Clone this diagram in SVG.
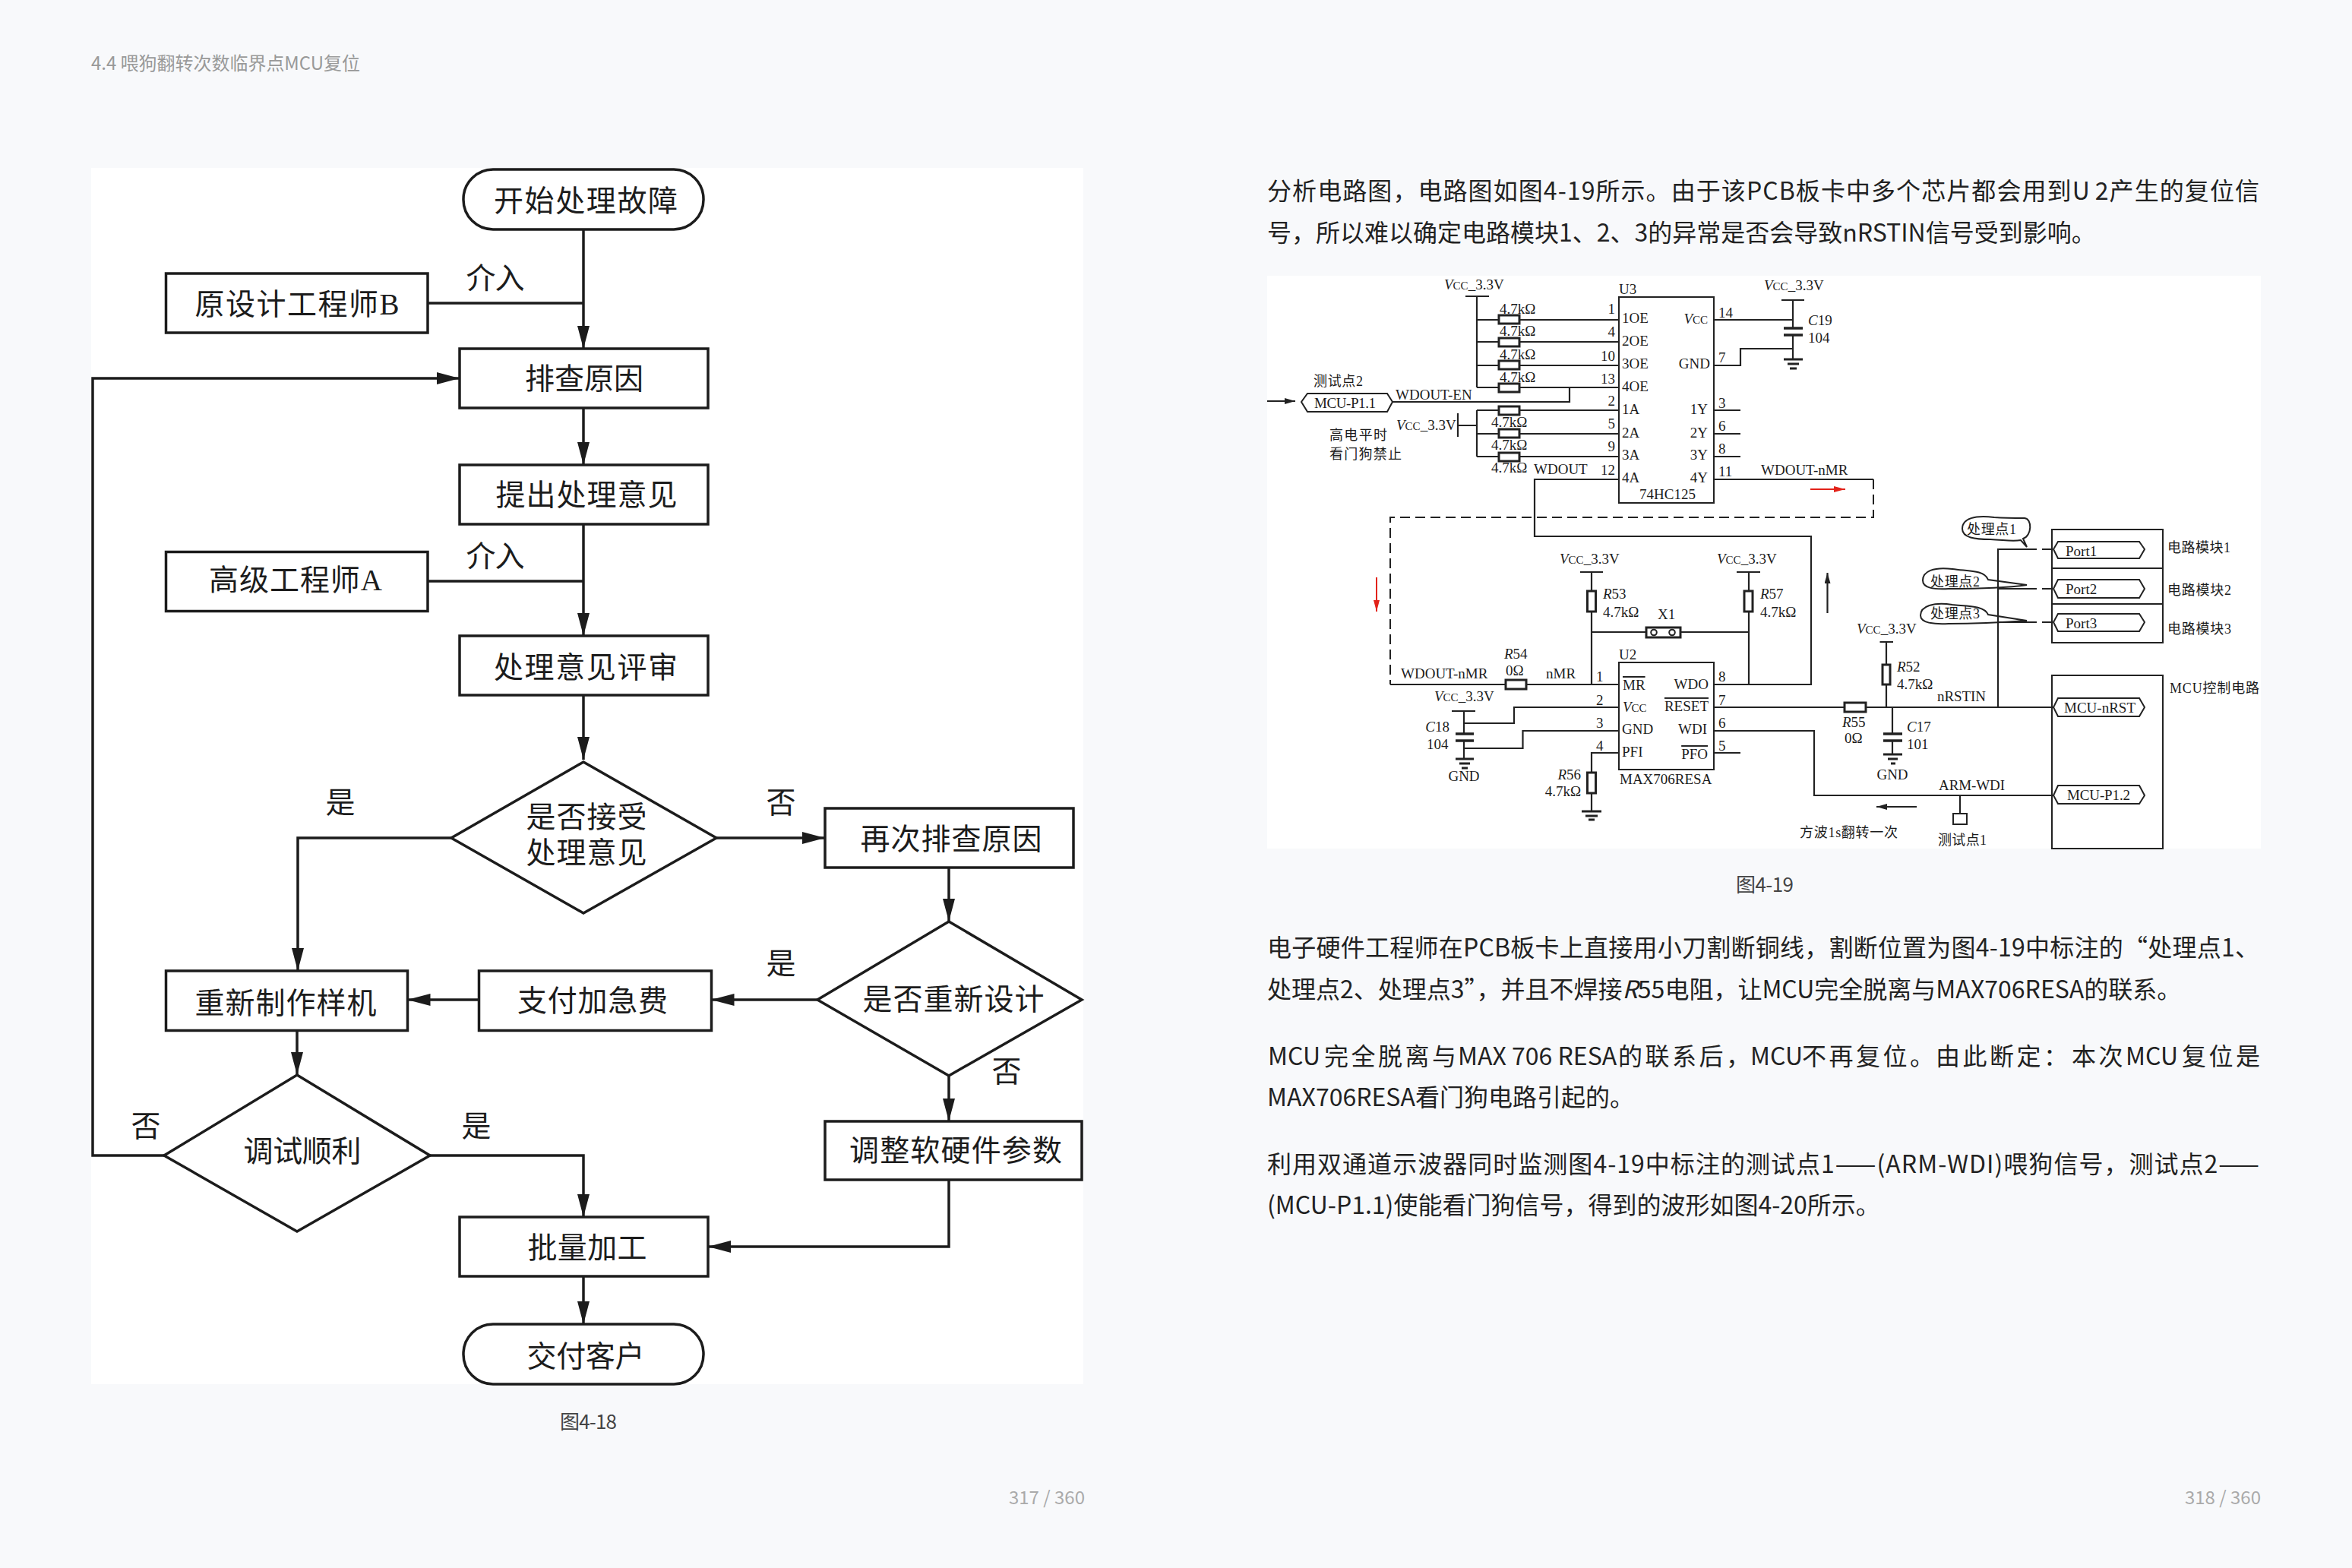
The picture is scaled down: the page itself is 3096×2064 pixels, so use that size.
<svg xmlns="http://www.w3.org/2000/svg" width="3096" height="2064" viewBox="0 0 3096 2064">
<style>
text{font-family:"Liberation Serif","Noto Sans CJK SC",serif;fill:#1c1c1c}
.b{font-family:"Noto Sans CJK SC","Noto Sans",sans-serif;font-size:32px;font-weight:400;fill:#222}
.j{letter-spacing:3.500px}
.h{font-family:"Noto Sans CJK SC","Noto Sans",sans-serif;font-size:24px;font-weight:400;fill:#999}
.c{font-family:"Noto Sans CJK SC","Noto Sans",sans-serif;font-size:26px;font-weight:400;fill:#444}
.f{font-size:39px;text-anchor:middle}
.n{fill:#fff;stroke:#1c1c1c;stroke-width:3.5}
.l{fill:none;stroke:#1c1c1c;stroke-width:3.5}
.s{font-size:19px}
.e{text-anchor:end}
.m{text-anchor:middle}
.cn{font-size:18px}
.w{fill:none;stroke:#222;stroke-width:2.2}
.d{fill:none;stroke:#222;stroke-width:2;stroke-dasharray:13 7}
.k{fill:none;stroke:#222;stroke-width:3.5}
.r{fill:#fff;stroke:#222;stroke-width:3}
.o{fill:none;stroke:#222;stroke-width:2}
.i{font-style:italic}
.sm{font-size:15px}
</style>
<defs>
<marker id="a" markerUnits="userSpaceOnUse" markerWidth="30" markerHeight="16" refX="30" refY="8" orient="auto"><path d="M0 0L30 8L0 16Z" fill="#1c1c1c"/></marker>
<marker id="sa" markerUnits="userSpaceOnUse" markerWidth="14" markerHeight="8" refX="14" refY="4" orient="auto"><path d="M0 0L14 4L0 8Z" fill="#222"/></marker>
<marker id="ra" markerUnits="userSpaceOnUse" markerWidth="15" markerHeight="8" refX="15" refY="4" orient="auto"><path d="M0 0L15 4L0 8Z" fill="#e2231a"/></marker>
</defs>
<rect width="3096" height="2064" fill="#f8f9fb"/>
<text class="h" x="120" y="92" textLength="354">4.4 喂狗翻转次数临界点MCU复位</text>
<rect x="120" y="221" width="1306" height="1601" fill="#fff"/>
<g id="connectors" class="l">
<path marker-end="url(#a)" d="M768 302V459"/>
<path d="M563 399H768"/>
<path marker-end="url(#a)" d="M768 537V612"/>
<path marker-end="url(#a)" d="M768 690V837"/>
<path d="M563 765H768"/>
<path marker-end="url(#a)" d="M768 915V1000"/>
<path marker-end="url(#a)" d="M594 1103H392V1278"/>
<path marker-end="url(#a)" d="M943 1103H1086"/>
<path marker-end="url(#a)" d="M1249 1142V1213"/>
<path marker-end="url(#a)" d="M1076 1316H936.500"/>
<path marker-end="url(#a)" d="M630 1316H536.500"/>
<path marker-end="url(#a)" d="M391 1356V1415"/>
<path marker-end="url(#a)" d="M1249 1416V1476"/>
<path marker-end="url(#a)" d="M216 1521H122V498H605"/>
<path marker-end="url(#a)" d="M566 1521H768V1602"/>
<path marker-end="url(#a)" d="M1249 1553V1641H932"/>
<path marker-end="url(#a)" d="M768 1680V1743"/>
</g>
<g id="start"><rect class="n" x="610" y="223" width="316" height="79" rx="39"/><text class="f" x="771" y="278" textLength="242">开始处理故障</text></g>
<g id="engineerB"><rect class="n" x="218.500" y="360" width="344.500" height="78"/><text class="f" x="391" y="414" textLength="269">原设计工程师B</text></g>
<text class="f" x="652" y="380" textLength="77">介入</text>
<g id="investigate"><rect class="n" x="605" y="459" width="327" height="78"/><text class="f" x="769" y="512" textLength="156">排查原因</text></g>
<g id="propose"><rect class="n" x="605" y="612" width="327" height="78"/><text class="f" x="772" y="665" textLength="239">提出处理意见</text></g>
<g id="engineerA"><rect class="n" x="218.500" y="726.500" width="344.500" height="78"/><text class="f" x="389" y="777" textLength="228">高级工程师A</text></g>
<text class="f" x="652" y="746" textLength="77">介入</text>
<g id="review"><rect class="n" x="605" y="837" width="327" height="78"/><text class="f" x="771" y="892" textLength="242">处理意见评审</text></g>
<g id="accept"><path class="n" d="M768 1003L943 1103L768 1202L594 1103Z"/><text class="f" x="772" y="1089" textLength="159">是否接受</text><text class="f" x="772" y="1136" textLength="159">处理意见</text></g>
<text class="f" x="448" y="1070">是</text>
<text class="f" x="1028" y="1070">否</text>
<g id="reinvestigate"><rect class="n" x="1086" y="1064" width="327" height="78"/><text class="f" x="1252" y="1118" textLength="239">再次排查原因</text></g>
<g id="redesign"><path class="n" d="M1249 1213L1424 1316L1249 1416L1076 1316Z"/><text class="f" x="1255" y="1329" textLength="239">是否重新设计</text></g>
<text class="f" x="1028" y="1282">是</text>
<text class="f" x="1325" y="1424">否</text>
<g id="fee"><rect class="n" x="630.500" y="1278" width="306" height="78.500"/><text class="f" x="780" y="1331" textLength="198">支付加急费</text></g>
<g id="remake"><rect class="n" x="218.500" y="1278" width="318" height="78.500"/><text class="f" x="376" y="1334" textLength="239">重新制作样机</text></g>
<g id="debug"><path class="n" d="M391 1415L566 1521L391 1621L216 1521Z"/><text class="f" x="398" y="1529" textLength="155">调试顺利</text></g>
<text class="f" x="192" y="1496">否</text>
<text class="f" x="627" y="1496">是</text>
<g id="adjust"><rect class="n" x="1086" y="1476" width="338" height="77"/><text class="f" x="1258" y="1528" textLength="280">调整软硬件参数</text></g>
<g id="batch"><rect class="n" x="605" y="1602" width="327" height="78"/><text class="f" x="773" y="1656" textLength="157">批量加工</text></g>
<g id="deliver"><rect class="n" x="610" y="1743" width="316" height="79" rx="39"/><text class="f" x="771" y="1799" textLength="155">交付客户</text></g>
<text class="c" x="737" y="1881" textLength="75">图4-18</text>
<text class="h" x="1428" y="1980" text-anchor="end" style="fill:#aaa">317 / 360</text>

<text class="b" x="1668" y="263" textLength="1306">分析电路图，电路图如图4-19所示。由于该PCB板卡中多个芯片都会用到U<tspan dx="6">2</tspan>产生的复位信</text>
<text class="b" x="1668" y="318">号，所以难以确定电路模块1、2、3的异常是否会导致nRSTIN信号受到影响。</text>

<rect x="1668" y="363" width="1308" height="754" fill="#fff"/>
<g id="wires">
<path class="w" d="M1944 390V510M1929 390H1960M1944 421H2131M1944 450H2131M1944 481H2131M1944 510H2131M1833 529H2066V510"/>
<path class="w" d="M1944 540V601M1919 544V575M1919 560H1944M1944 540H2131M1944 571H2131M1944 601H2131"/>
<path class="w" d="M2131 631H2020V706H2384V901H2256"/>
<path class="w" d="M2256 421H2360M2345 395H2375M2360 395V432M2360 441V473M2256 481H2291V459H2360"/>
<path class="w" d="M2256 540H2291M2256 571H2291M2256 601H2291M2256 631H2466"/>
<path class="d" d="M2466 631V681H1830V901"/>
<path class="w" d="M1830 901H2131M2095 753V901M2080 753H2110M2286 753H2317M2302 753V901M2095 832H2302"/>
<path class="w" d="M2131 931H1993V952H1927M2131 962H2004.500V985H1927M1911 936H1942M1927 936V966M1927 975V999"/>
<path class="w" d="M2131 991H2095V1068"/>
<path class="w" d="M2256 931H2703M2256 962H2388V1047H2703M2256 991H2291M2483 845V931M2474.500 845H2492M2491 931V966M2491 975V993M2580 1047V1071M2630 931V723H2668M2630 775H2668M2630 819H2668"/>
<path class="d" d="M2668 723H2703M2668 775H2703M2668 819H2703"/>
<path class="w" style="stroke-width:3" d="M2348 473H2373M2353 479H2368M2356 485H2365M1916 999H1940M1921 1005H1935M1924 1011H1932M2082 1068H2108M2087 1074H2103M2091 1079H2099M2479 993H2504M2485 999H2498M2489 1005H2495"/>
<path class="k" d="M2348 432H2373M2348 441H2373M1916 966H1940M1916 975H1940M2479 966H2504M2479 975H2504"/>
</g>
<g id="arrows">
<path class="w" marker-end="url(#sa)" d="M1668 528H1705"/>
<path class="w" marker-end="url(#sa)" d="M2405.500 807V754"/>
<path class="w" marker-end="url(#sa)" d="M2523 1062H2470"/>
<path fill="none" stroke="#e2231a" stroke-width="2" marker-end="url(#ra)" d="M2383 644H2429"/>
<path fill="none" stroke="#e2231a" stroke-width="2" marker-end="url(#ra)" d="M1812 760V805"/>
</g>
<g id="resistors">
<rect class="r" x="1973" y="415" width="27" height="11"/><rect class="r" x="1973" y="445" width="27" height="11"/><rect class="r" x="1973" y="475" width="27" height="11"/><rect class="r" x="1973" y="505" width="27" height="11"/>
<rect class="r" x="1973" y="535" width="27" height="11"/><rect class="r" x="1973" y="565" width="27" height="11"/><rect class="r" x="1973" y="596" width="27" height="11"/>
<rect class="r" x="2089.500" y="778" width="11" height="27"/><rect class="r" x="2296" y="778" width="11" height="27"/><rect class="r" x="1982" y="895" width="27" height="12"/><rect class="r" x="2089.500" y="1017" width="11" height="27"/><rect class="r" x="2428" y="925" width="28" height="12"/><rect class="r" x="2478" y="875" width="10" height="26"/>
</g>
<g id="X1"><rect class="r" x="2167" y="826" width="45" height="13"/><circle class="o" cx="2177" cy="832.500" r="3.800"/><circle class="o" cx="2201" cy="832.500" r="3.800"/><text class="s" x="2182" y="815">X1</text></g>
<g id="U3"><rect class="o" x="2131" y="391" width="125" height="271"/><text class="s" x="2131" y="387">U3</text><text class="s" x="2158" y="657">74HC125</text>
<text class="s" x="2135" y="425">1OE</text><text class="s" x="2135" y="455">2OE</text><text class="s" x="2135" y="485">3OE</text><text class="s" x="2135" y="515">4OE</text><text class="s" x="2135" y="545">1A</text><text class="s" x="2135" y="576">2A</text><text class="s" x="2135" y="605">3A</text><text class="s" x="2135" y="635">4A</text>
<text class="s e" x="2248" y="426"><tspan class="i">V</tspan><tspan class="sm">CC</tspan></text><text class="s e" x="2251" y="485">GND</text><text class="s e" x="2248" y="545">1Y</text><text class="s e" x="2248" y="576">2Y</text><text class="s e" x="2248" y="605">3Y</text><text class="s e" x="2248" y="635">4Y</text>
<text class="s e" x="2126" y="413">1</text><text class="s e" x="2126" y="443">4</text><text class="s e" x="2126" y="475">10</text><text class="s e" x="2126" y="505">13</text><text class="s e" x="2126" y="534">2</text><text class="s e" x="2126" y="564">5</text><text class="s e" x="2126" y="594">9</text><text class="s e" x="2126" y="625">12</text>
<text class="s" x="2262" y="418">14</text><text class="s" x="2262" y="477">7</text><text class="s" x="2262" y="537">3</text><text class="s" x="2262" y="567">6</text><text class="s" x="2262" y="597">8</text><text class="s" x="2262" y="627">11</text></g>
<g id="U2"><rect class="o" x="2131" y="872" width="125" height="141"/><text class="s" x="2131" y="868">U2</text><text class="s" x="2132" y="1032">MAX706RESA</text>
<text class="s" x="2136" y="908" text-decoration="overline">MR</text><text class="s" x="2136" y="937"><tspan class="i">V</tspan><tspan class="sm">CC</tspan></text><text class="s" x="2135" y="966">GND</text><text class="s" x="2135" y="996">PFI</text>
<text class="s e" x="2249" y="907">WDO</text><text class="s e" x="2249" y="936" text-decoration="overline">RESET</text><text class="s e" x="2247" y="966">WDI</text><text class="s e" x="2248" y="999" text-decoration="overline">PFO</text>
<text class="s" x="2101" y="897">1</text><text class="s" x="2101" y="928">2</text><text class="s" x="2101" y="958">3</text><text class="s" x="2101" y="988">4</text><text class="s" x="2262" y="897">8</text><text class="s" x="2262" y="928">7</text><text class="s" x="2262" y="958">6</text><text class="s" x="2262" y="988">5</text></g>
<g id="labels">
<text class="s" x="1901" y="381"><tspan class="i">V</tspan><tspan class="sm">CC</tspan>_3.3V</text>
<text class="s" x="2322" y="382"><tspan class="i">V</tspan><tspan class="sm">CC</tspan>_3.3V</text>
<text class="s" x="1838" y="566"><tspan class="i">V</tspan><tspan class="sm">CC</tspan>_3.3V</text>
<text class="s" x="2053" y="742"><tspan class="i">V</tspan><tspan class="sm">CC</tspan>_3.3V</text>
<text class="s" x="2260" y="742"><tspan class="i">V</tspan><tspan class="sm">CC</tspan>_3.3V</text>
<text class="s" x="1888" y="923"><tspan class="i">V</tspan><tspan class="sm">CC</tspan>_3.3V</text>
<text class="s" x="2444" y="834"><tspan class="i">V</tspan><tspan class="sm">CC</tspan>_3.3V</text>
<text class="s" x="1974" y="413">4.7kΩ</text><text class="s" x="1974" y="442">4.7kΩ</text><text class="s" x="1974" y="473">4.7kΩ</text><text class="s" x="1974" y="503">4.7kΩ</text>
<text class="s" x="1963" y="562">4.7kΩ</text><text class="s" x="1963" y="592">4.7kΩ</text><text class="s" x="1963" y="622">4.7kΩ</text>
<text class="s" x="2019" y="624">WDOUT</text><text class="s" x="1837" y="526">WDOUT-EN</text><text class="s" x="2318" y="625">WDOUT-nMR</text><text class="s" x="1844" y="893">WDOUT-nMR</text><text class="s" x="2035" y="893">nMR</text>
<text class="s" x="2380" y="428"><tspan class="i">C</tspan>19</text><text class="s" x="2380" y="451">104</text>
<text class="s" x="2110" y="788"><tspan class="i">R</tspan>53</text><text class="s" x="2110" y="812">4.7kΩ</text>
<text class="s" x="2317" y="788"><tspan class="i">R</tspan>57</text><text class="s" x="2317" y="812">4.7kΩ</text>
<text class="s" x="1980" y="867"><tspan class="i">R</tspan>54</text><text class="s" x="1982" y="889">0Ω</text>
<text class="s e" x="1908" y="963"><tspan class="i">C</tspan>18</text><text class="s" x="1878" y="986">104</text><text class="s m" x="1927" y="1028">GND</text>
<text class="s e" x="2081" y="1026"><tspan class="i">R</tspan>56</text><text class="s e" x="2081" y="1048">4.7kΩ</text>
<text class="s" x="2425" y="957"><tspan class="i">R</tspan>55</text><text class="s" x="2428" y="978">0Ω</text>
<text class="s" x="2497" y="884"><tspan class="i">R</tspan>52</text><text class="s" x="2497" y="907">4.7kΩ</text>
<text class="s" x="2510" y="963"><tspan class="i">C</tspan>17</text><text class="s" x="2510" y="986">101</text><text class="s m" x="2491" y="1026">GND</text>
<text class="s" x="2550" y="923" textLength="64">nRSTIN</text><text class="s" x="2552" y="1040" textLength="87">ARM-WDI</text>
<text class="cn" x="1729" y="508" textLength="65">测试点2</text>
<text class="cn" x="1750" y="579" textLength="76">高电平时</text>
<text class="cn" x="1750" y="604" textLength="95">看门狗禁止</text>
<text class="cn" x="2369" y="1102" textLength="129">方波1s翻转一次</text>
<text class="cn" x="2551" y="1112" textLength="64">测试点1</text>
</g>
<g id="MCU-P1.1"><path class="o" d="M1713 529L1721 518H1826L1833 529L1826 542H1721Z"/><text class="s" x="1730" y="537" textLength="81">MCU-P1.1</text></g>
<g id="modules"><rect class="o" x="2701" y="697" width="146" height="149"/><path class="o" d="M2701 748H2847M2701 795H2847"/>
<path class="o" d="M2703 723L2709 713H2816L2823 723L2816 735H2709Z"/><text class="s" x="2719" y="732">Port1</text>
<path class="o" d="M2703 775L2709 763H2816L2823 775L2816 787H2709Z"/><text class="s" x="2719" y="782">Port2</text>
<path class="o" d="M2703 819L2709 808H2816L2823 819L2816 831H2709Z"/><text class="s" x="2719" y="827">Port3</text>
<text class="cn" x="2853" y="727" textLength="83">电路模块1</text><text class="cn" x="2853" y="783" textLength="84">电路模块2</text><text class="cn" x="2853" y="834" textLength="84">电路模块3</text></g>
<g id="MCU"><rect class="o" x="2701" y="889" width="146" height="228"/><text class="cn" x="2856" y="912" textLength="118">MCU控制电路</text>
<path class="o" d="M2703 931L2709 919H2816L2823 931L2816 943H2709Z"/><text class="s" x="2717" y="938" textLength="94">MCU-nRST</text>
<path class="o" d="M2703 1047L2709 1034H2816L2823 1047L2816 1058H2709Z"/><text class="s" x="2721" y="1053" textLength="83">MCU-P1.2</text></g>
<g id="testpoint1"><rect class="o" x="2571" y="1071" width="18" height="14"/></g>
<g id="bubbles">
<path class="o" d="M2668 720L2663 709C2675 705 2675 683 2665 682C2650 682 2640 682 2625 681C2600 678 2583 682 2583 696C2583 708 2600 710 2620 710C2640 711 2650 713 2660 711Z"/><text class="cn" x="2589" y="703" textLength="65">处理点1</text>
<path class="o" d="M2668 770L2617 763C2612 750 2590 752 2570 749C2545 746 2531 752 2531 764C2531 774 2545 776 2565 775C2600 775 2640 774 2668 770Z"/><text class="cn" x="2541" y="772" textLength="65">处理点2</text>
<path class="o" d="M2668 817L2617 809C2612 797 2590 798 2570 796C2545 792 2528 798 2528 810C2528 820 2545 822 2565 821C2600 821 2640 819 2668 817Z"/><text class="cn" x="2541" y="814" textLength="65">处理点3</text>
</g>
<text class="c" x="2285" y="1174" textLength="76">图4-19</text>
<text class="b" x="1668" y="1259" textLength="1306">电子硬件工程师在PCB板卡上直接用小刀割断铜线，割断位置为图4-19中标注的“处理点1、</text>
<text class="b" x="1668" y="1314">处理点2、处理点3”，并且不焊接<tspan font-style="italic">R</tspan>55电阻，让MCU完全脱离与MAX706RESA的联系。</text>
<text class="b" y="1402"><tspan x="1669">MCU</tspan><tspan class="j" x="1743">完全脱离与</tspan><tspan x="1919">MAX 706 RESA</tspan><tspan class="j" x="2130">的联系后，</tspan><tspan x="2304">MCU</tspan><tspan class="j" x="2372">不再复位。</tspan><tspan class="j" x="2548">由此断定：</tspan><tspan class="j" x="2727">本次</tspan><tspan x="2798">MCU</tspan><tspan class="j" x="2872">复位是</tspan></text>
<text class="b" x="1668" y="1456">MAX706RESA看门狗电路引起的。</text>
<text class="b" x="1668" y="1544" textLength="1306">利用双通道示波器同时监测图4-19中标注的测试点1——(ARM-WDI)喂狗信号，测试点2——</text>
<text class="b" x="1668" y="1598">(MCU-P1.1)使能看门狗信号，得到的波形如图4-20所示。</text>
<text class="h" x="2976" y="1980" text-anchor="end" style="fill:#aaa">318 / 360</text>
</svg>
